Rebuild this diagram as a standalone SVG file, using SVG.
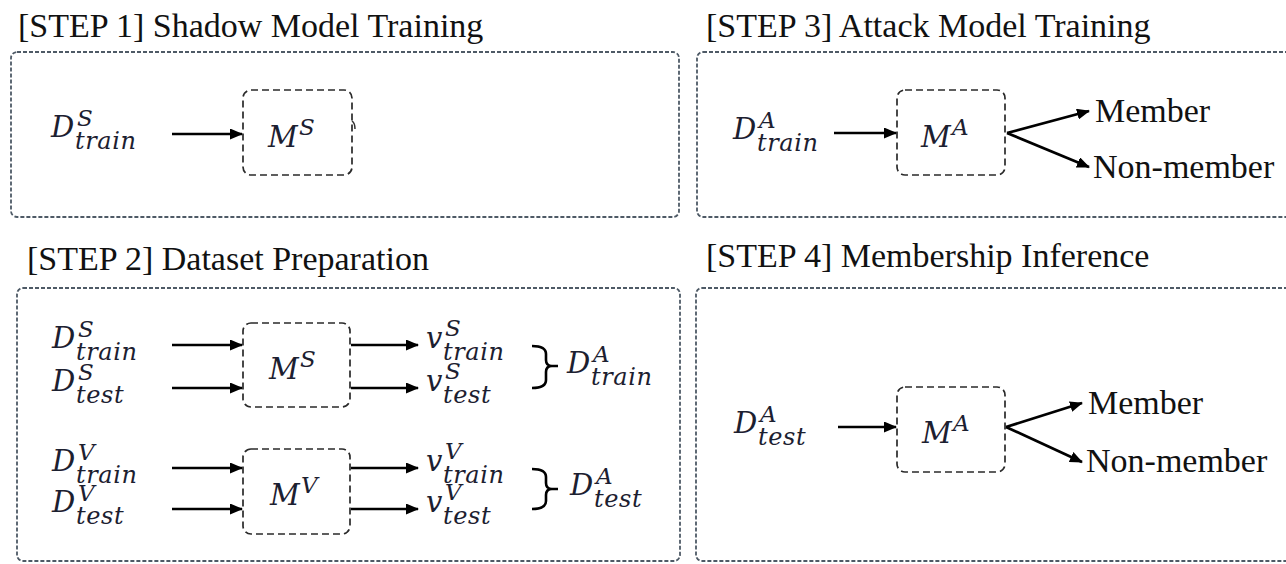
<svg xmlns="http://www.w3.org/2000/svg" width="1286" height="564" viewBox="0 0 1286 564">
<style>
.title{font-size:34px;fill:#111}
.lbl{font-size:34px;fill:#111}
.m{font-style:italic;font-size:29px;fill:#1c2030}
.s{font-size:23px}
.b{font-size:24px;letter-spacing:0.6px}
.outer{fill:none;stroke:#4e5a66;stroke-width:1.8;stroke-dasharray:4 2}
.inner{fill:none;stroke:#2a2a2a;stroke-width:1.7;stroke-dasharray:7 4}
.arr{stroke:#000;stroke-width:2.7;fill:none;marker-end:url(#ah)}
.br{stroke:#000;stroke-width:2.6;fill:none}
</style>
<defs>
<marker id="ah" markerUnits="userSpaceOnUse" markerWidth="13" markerHeight="11" refX="12" refY="5.5" orient="auto">
<path d="M0,0 L13,5.5 L0,11 z" fill="#000"/>
</marker>
</defs>

<g font-family="'Liberation Serif', 'Times New Roman', Tinos, Times, 'DejaVu Serif', serif">
<text class="title" x="18" y="37">[STEP 1] Shadow Model Training</text>
<text class="title" x="706" y="37">[STEP 3] Attack Model Training</text>
<text class="title" x="27" y="270">[STEP 2] Dataset Preparation</text>
<text class="title" x="706" y="267">[STEP 4] Membership Inference</text>
</g>

<g id="step1">
<rect class="outer" x="11" y="52" width="668" height="165" rx="6"/>
</g>
<g id="step3">
<rect class="outer" x="697" y="52" width="600" height="165" rx="6"/>
</g>
<g id="step2">
<rect class="outer" x="17" y="288" width="663" height="273" rx="6"/>
</g>
<g id="step4">
<rect class="outer" x="696" y="288" width="600" height="273" rx="6"/>
</g>

<g font-family="'DejaVu Serif', 'Liberation Serif', 'Noto Serif', serif">
<g id="s1-input">
<text class="m" x="51" y="137">D<tspan class="s" x="77" y="126">S</tspan><tspan class="b" x="75" y="149">train</tspan></text>
</g>
<g id="s1-model">
<rect class="inner" x="243" y="90" width="109" height="85" rx="8"/>
<text class="m" x="268" y="147">M<tspan class="s" x="299" y="135">S</tspan></text>
<path d="M352,121 q3,2 3,8" stroke="#333" stroke-width="1.5" fill="none"/>
</g>

<g id="s3-input">
<text class="m" x="733" y="139">D<tspan class="s" x="759" y="128">A</tspan><tspan class="b" x="757" y="151">train</tspan></text>
</g>
<g id="s3-model">
<rect class="inner" x="897" y="90" width="108" height="85" rx="8"/>
<text class="m" x="921" y="147">M<tspan class="s" x="952" y="135">A</tspan></text>
</g>

<g id="s2-inputs">
<text class="m" x="52" y="348">D<tspan class="s" x="78" y="337">S</tspan><tspan class="b" x="76" y="360">train</tspan></text>
<text class="m" x="52" y="391">D<tspan class="s" x="78" y="380">S</tspan><tspan class="b" x="76" y="403">test</tspan></text>
<text class="m" x="52" y="471">D<tspan class="s" x="78" y="460">V</tspan><tspan class="b" x="76" y="483">train</tspan></text>
<text class="m" x="52" y="512">D<tspan class="s" x="78" y="501">V</tspan><tspan class="b" x="76" y="524">test</tspan></text>
</g>
<g id="s2-modelS">
<rect class="inner" x="243" y="323" width="107" height="84" rx="8"/>
<text class="m" x="269" y="379">M<tspan class="s" x="300" y="367">S</tspan></text>
</g>
<g id="s2-modelV">
<rect class="inner" x="243" y="449" width="107" height="85" rx="8"/>
<text class="m" x="270" y="505">M<tspan class="s" x="301" y="493">V</tspan></text>
</g>
<g id="s2-outputs">
<text class="m" x="426" y="348" font-size="32">v<tspan class="s" x="445" y="336">S</tspan><tspan class="b" x="443" y="360">train</tspan></text>
<text class="m" x="426" y="391" font-size="32">v<tspan class="s" x="445" y="379">S</tspan><tspan class="b" x="443" y="403">test</tspan></text>
<text class="m" x="426" y="471" font-size="32">v<tspan class="s" x="445" y="459">V</tspan><tspan class="b" x="443" y="483">train</tspan></text>
<text class="m" x="426" y="512" font-size="32">v<tspan class="s" x="445" y="500">V</tspan><tspan class="b" x="443" y="524">test</tspan></text>
</g>
<g id="s2-datasetA">
<path class="br" d="M532,346 Q546,346 546,354 L546,360 Q546,366 552,366 L558,366 M552,366 Q546,366 546,372 L546,380 Q546,388 532,388"/>
<text class="m" x="567" y="373">D<tspan class="s" x="593" y="362">A</tspan><tspan class="b" x="591" y="385">train</tspan></text>
<path class="br" d="M532,469 Q546,469 546,477 L546,483 Q546,489 552,489 L558,489 M552,489 Q546,489 546,495 L546,501 Q546,509 532,509"/>
<text class="m" x="570" y="495">D<tspan class="s" x="596" y="484">A</tspan><tspan class="b" x="594" y="507">test</tspan></text>
</g>

<g id="s4-input">
<text class="m" x="734" y="433">D<tspan class="s" x="760" y="422">A</tspan><tspan class="b" x="758" y="445">test</tspan></text>
</g>
<g id="s4-model">
<rect class="inner" x="897" y="387" width="108" height="85" rx="8"/>
<text class="m" x="922" y="443">M<tspan class="s" x="953" y="431">A</tspan></text>
</g>
</g>

<g font-family="'Liberation Serif', 'Times New Roman', Tinos, Times, 'DejaVu Serif', serif">
<g id="s3-out">
<text class="lbl" x="1095" y="122">Member</text>
<text class="lbl" x="1093" y="178">Non-member</text>
</g>
<g id="s4-out">
<text class="lbl" x="1088" y="414">Member</text>
<text class="lbl" x="1086" y="472">Non-member</text>
</g>
</g>

<g id="connectors">
<line class="arr" x1="172" y1="134" x2="242" y2="134"/>
<line class="arr" x1="834" y1="133" x2="896" y2="133"/>
<line class="arr" x1="1007" y1="133" x2="1089" y2="111"/>
<line class="arr" x1="1007" y1="133" x2="1089" y2="167"/>
<line class="arr" x1="172" y1="345" x2="242" y2="345"/>
<line class="arr" x1="172" y1="388" x2="242" y2="388"/>
<line class="arr" x1="172" y1="468" x2="242" y2="468"/>
<line class="arr" x1="172" y1="509" x2="242" y2="509"/>
<line class="arr" x1="351" y1="345" x2="418" y2="345"/>
<line class="arr" x1="351" y1="388" x2="418" y2="388"/>
<line class="arr" x1="351" y1="468" x2="418" y2="468"/>
<line class="arr" x1="351" y1="509" x2="418" y2="509"/>
<line class="arr" x1="838" y1="427" x2="896" y2="427"/>
<line class="arr" x1="1006" y1="427" x2="1082" y2="403"/>
<line class="arr" x1="1006" y1="427" x2="1082" y2="462"/>
</g>
</svg>
